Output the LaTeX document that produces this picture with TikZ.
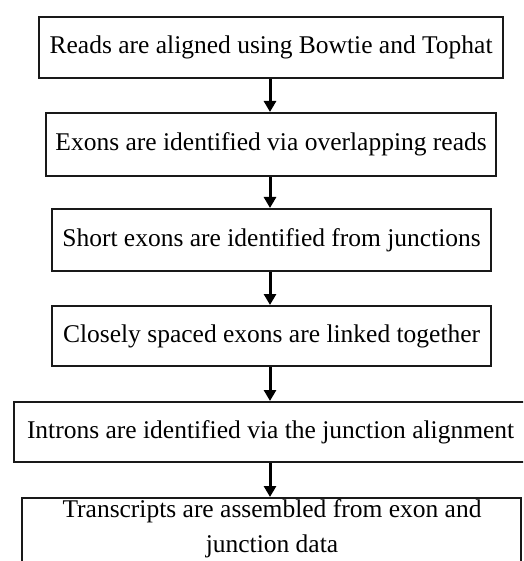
\documentclass[tikz,border=0pt]{standalone}
\usepackage{fontspec}
\setmainfont{Liberation Serif}
\usetikzlibrary{arrows.meta}
\begin{document}
\begin{tikzpicture}[x=1pt,y=-1pt,
  stepbox/.style={draw=black!90,line width=2.2pt,inner sep=0pt,anchor=north west,
    font=\fontsize{25.5}{35}\selectfont},
  flow/.style={line width=3pt,-{Triangle[width=12pt,length=11pt]}}]
\clip (0,0) rectangle (523,561);
\fill[white] (0,0) rectangle (523,561);
\node[stepbox,minimum width=464pt,minimum height=61pt] (b1) at (38,16) {Reads are aligned using Bowtie and Tophat};
\node[stepbox,minimum width=450pt,minimum height=63pt] (b2) at (45,112) {Exons are identified via overlapping reads};
\node[stepbox,minimum width=439pt,minimum height=62pt] (b3) at (51,208) {Short exons are identified from junctions};
\node[stepbox,minimum width=439pt,minimum height=60pt] (b4) at (51,305) {Closely spaced exons are linked together};
\node[stepbox,minimum width=520pt,minimum height=60pt] (b5) at (13,401) {\hspace*{-7pt}Introns are identified via the junction alignment};
\node[stepbox,minimum width=499pt,minimum height=90pt] (b6) at (21,497) {};
\node[font=\fontsize{25.5}{35}\selectfont,align=center,anchor=north,inner sep=0pt] (t6) at (272,499) {Transcripts are assembled from exon and\\junction data};
\draw[flow] (b1.south -| 270,0) -- (b2.north -| 270,0);
\draw[flow] (b2.south -| 270,0) -- (b3.north -| 270,0);
\draw[flow] (b3.south -| 270,0) -- (b4.north -| 270,0);
\draw[flow] (b4.south -| 270,0) -- (b5.north -| 270,0);
\draw[flow] (b5.south -| 270,0) -- (b6.north -| 270,0);
\end{tikzpicture}
\end{document}
